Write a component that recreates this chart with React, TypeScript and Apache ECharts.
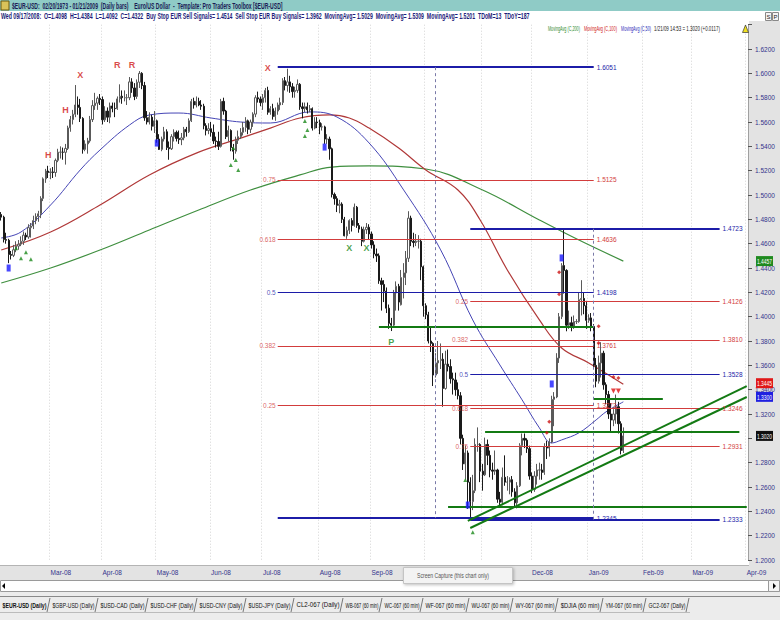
import React, { useEffect, useRef } from "react";
import * as echarts from "echarts";

const NARROW = "'Liberation Sans Narrow','Arial Narrow','Liberation Sans',sans-serif";

// ---------- axis ----------
const firstDate = "2008-02-04";
const lastDate = "2009-04-01";
const monthTicks: [string, string][] = [
  ["2008-03", "Mar-08"], ["2008-04", "Apr-08"], ["2008-05", "May-08"], ["2008-06", "Jun-08"],
  ["2008-07", "Jul-08"], ["2008-08", "Aug-08"], ["2008-09", "Sep-08"], ["2008-10", "Oct-08"],
  ["2008-11", "Nov-08"], ["2008-12", "Dec-08"], ["2009-01", "Jan-09"], ["2009-02", "Feb-09"],
  ["2009-03", "Mar-09"], ["2009-04", "Apr-09"],
];
const priceMin = 1.2;
const priceMax = 1.64;
const priceStep = 0.02;
const hiddenTicks = [1.64, 1.3];

// ---------- daily bars [open, high, low, close] ----------
const feb08 = [
  [1.4840, 1.4860, 1.4790, 1.4818], [1.4818, 1.4830, 1.4610, 1.4634], [1.4634, 1.4690, 1.4600, 1.4628],
  [1.4628, 1.4640, 1.4440, 1.4511], [1.4511, 1.4540, 1.4470, 1.4504], [1.4504, 1.4590, 1.4490, 1.4550],
  [1.4550, 1.4620, 1.4530, 1.4580], [1.4580, 1.4630, 1.4550, 1.4596], [1.4596, 1.4660, 1.4580, 1.4620],
  [1.4620, 1.4700, 1.4590, 1.4670], [1.4670, 1.4690, 1.4630, 1.4655], [1.4655, 1.4760, 1.4640, 1.4732],
  [1.4732, 1.4770, 1.4650, 1.4745], [1.4745, 1.4830, 1.4720, 1.4790], [1.4790, 1.4850, 1.4760, 1.4823],
  [1.4823, 1.4870, 1.4780, 1.4846], [1.4846, 1.4990, 1.4810, 1.4972], [1.4972, 1.5145, 1.4950, 1.5133],
  [1.5133, 1.5215, 1.5100, 1.5197], [1.5197, 1.5240, 1.5140, 1.5185],
];
const mar08 = [
  [1.5185, 1.5220, 1.5130, 1.5190], [1.5190, 1.5230, 1.5140, 1.5185], [1.5185, 1.5300, 1.5150, 1.5285],
  [1.5285, 1.5380, 1.5270, 1.5352], [1.5352, 1.5400, 1.5300, 1.5352], [1.5352, 1.5390, 1.5290, 1.5351],
  [1.5351, 1.5420, 1.5250, 1.5383], [1.5383, 1.5570, 1.5370, 1.5552], [1.5552, 1.5650, 1.5520, 1.5620],
  [1.5620, 1.5700, 1.5580, 1.5664], [1.5664, 1.5904, 1.5640, 1.5740], [1.5740, 1.5810, 1.5660, 1.5720],
  [1.5720, 1.5790, 1.5600, 1.5630], [1.5630, 1.5640, 1.5340, 1.5375], [1.5375, 1.5450, 1.5360, 1.5420],
  [1.5420, 1.5470, 1.5340, 1.5445], [1.5445, 1.5650, 1.5430, 1.5620], [1.5620, 1.5780, 1.5600, 1.5735],
  [1.5735, 1.5840, 1.5700, 1.5755], [1.5755, 1.5810, 1.5700, 1.5795], [1.5795, 1.5830, 1.5740, 1.5785],
];
const apr08 = [
  [1.5785, 1.5810, 1.5580, 1.5618], [1.5618, 1.5730, 1.5600, 1.5690], [1.5690, 1.5720, 1.5600, 1.5640],
  [1.5640, 1.5760, 1.5590, 1.5732], [1.5732, 1.5760, 1.5680, 1.5712], [1.5712, 1.5760, 1.5640, 1.5710],
  [1.5710, 1.5810, 1.5700, 1.5790], [1.5790, 1.5910, 1.5760, 1.5812], [1.5812, 1.5860, 1.5750, 1.5800],
  [1.5800, 1.5860, 1.5770, 1.5800], [1.5800, 1.5830, 1.5740, 1.5800], [1.5800, 1.5970, 1.5780, 1.5930],
  [1.5930, 1.5960, 1.5840, 1.5880], [1.5880, 1.5920, 1.5780, 1.5810], [1.5810, 1.5950, 1.5790, 1.5927],
  [1.5927, 1.6019, 1.5880, 1.6000], [1.6000, 1.6010, 1.5870, 1.5900], [1.5900, 1.5930, 1.5610, 1.5635],
  [1.5635, 1.5690, 1.5580, 1.5600], [1.5600, 1.5680, 1.5580, 1.5640], [1.5640, 1.5660, 1.5530, 1.5565],
  [1.5565, 1.5690, 1.5510, 1.5610],
];
const may08 = [
  [1.5610, 1.5620, 1.5430, 1.5460], [1.5460, 1.5500, 1.5370, 1.5375], [1.5375, 1.5480, 1.5360, 1.5460],
  [1.5460, 1.5560, 1.5440, 1.5520], [1.5520, 1.5540, 1.5370, 1.5390], [1.5390, 1.5440, 1.5290, 1.5380],
  [1.5380, 1.5500, 1.5370, 1.5480], [1.5480, 1.5540, 1.5440, 1.5515], [1.5515, 1.5530, 1.5440, 1.5465],
  [1.5465, 1.5530, 1.5420, 1.5455], [1.5455, 1.5510, 1.5410, 1.5470], [1.5470, 1.5560, 1.5450, 1.5540],
  [1.5540, 1.5560, 1.5480, 1.5520], [1.5520, 1.5630, 1.5510, 1.5610], [1.5610, 1.5790, 1.5600, 1.5770],
  [1.5770, 1.5800, 1.5710, 1.5740], [1.5740, 1.5810, 1.5720, 1.5770], [1.5770, 1.5800, 1.5730, 1.5740],
  [1.5740, 1.5780, 1.5700, 1.5730], [1.5730, 1.5750, 1.5540, 1.5570], [1.5570, 1.5590, 1.5490, 1.5530],
  [1.5530, 1.5590, 1.5500, 1.5545],
];
const jun08 = [
  [1.5545, 1.5600, 1.5480, 1.5515], [1.5515, 1.5580, 1.5420, 1.5445], [1.5445, 1.5480, 1.5390, 1.5440],
  [1.5440, 1.5520, 1.5370, 1.5400], [1.5400, 1.5790, 1.5390, 1.5770], [1.5770, 1.5800, 1.5660, 1.5690],
  [1.5690, 1.5700, 1.5460, 1.5480], [1.5480, 1.5570, 1.5440, 1.5530], [1.5530, 1.5540, 1.5360, 1.5390],
  [1.5390, 1.5420, 1.5290, 1.5360], [1.5360, 1.5480, 1.5340, 1.5450], [1.5450, 1.5530, 1.5420, 1.5480],
  [1.5480, 1.5550, 1.5460, 1.5515], [1.5515, 1.5600, 1.5490, 1.5555], [1.5555, 1.5640, 1.5520, 1.5610],
  [1.5610, 1.5620, 1.5500, 1.5540], [1.5540, 1.5620, 1.5510, 1.5600], [1.5600, 1.5680, 1.5560, 1.5665],
  [1.5665, 1.5820, 1.5640, 1.5800], [1.5800, 1.5850, 1.5760, 1.5790], [1.5790, 1.5810, 1.5730, 1.5760],
];
const jul08 = [
  [1.5760, 1.5830, 1.5700, 1.5800], [1.5800, 1.5880, 1.5760, 1.5860], [1.5860, 1.5890, 1.5660, 1.5680],
  [1.5680, 1.5730, 1.5660, 1.5710], [1.5710, 1.5750, 1.5620, 1.5645], [1.5645, 1.5720, 1.5610, 1.5690],
  [1.5690, 1.5760, 1.5660, 1.5740], [1.5740, 1.5800, 1.5700, 1.5760], [1.5760, 1.5960, 1.5740, 1.5940],
  [1.5940, 1.5970, 1.5860, 1.5900], [1.5900, 1.6038, 1.5850, 1.5930], [1.5930, 1.5980, 1.5840, 1.5890],
  [1.5890, 1.5920, 1.5800, 1.5850], [1.5850, 1.5890, 1.5800, 1.5860], [1.5860, 1.5950, 1.5840, 1.5910],
  [1.5910, 1.5920, 1.5700, 1.5725], [1.5725, 1.5760, 1.5630, 1.5710], [1.5710, 1.5760, 1.5680, 1.5725],
  [1.5725, 1.5760, 1.5670, 1.5700], [1.5700, 1.5740, 1.5680, 1.5710], [1.5710, 1.5720, 1.5530, 1.5550],
  [1.5550, 1.5640, 1.5540, 1.5600], [1.5600, 1.5640, 1.5550, 1.5595],
];
const aug08 = [
  [1.5595, 1.5620, 1.5500, 1.5560], [1.5560, 1.5590, 1.5530, 1.5560], [1.5560, 1.5570, 1.5420, 1.5460],
  [1.5460, 1.5500, 1.5420, 1.5460], [1.5460, 1.5480, 1.5290, 1.5380], [1.5380, 1.5390, 1.4980, 1.5005],
  [1.5005, 1.5020, 1.4920, 1.4970], [1.4970, 1.4990, 1.4860, 1.4915], [1.4915, 1.4960, 1.4850, 1.4925],
  [1.4925, 1.4940, 1.4770, 1.4800], [1.4800, 1.4820, 1.4660, 1.4665], [1.4665, 1.4740, 1.4640, 1.4710],
  [1.4710, 1.4800, 1.4680, 1.4790], [1.4790, 1.4810, 1.4700, 1.4750], [1.4750, 1.4930, 1.4740, 1.4900],
  [1.4900, 1.4910, 1.4730, 1.4750], [1.4750, 1.4770, 1.4690, 1.4720], [1.4720, 1.4740, 1.4580, 1.4620],
  [1.4620, 1.4740, 1.4610, 1.4715], [1.4715, 1.4770, 1.4680, 1.4735], [1.4735, 1.4760, 1.4630, 1.4680],
];
const sep08 = [
  [1.4680, 1.4700, 1.4560, 1.4590], [1.4590, 1.4620, 1.4480, 1.4515], [1.4515, 1.4560, 1.4450, 1.4500],
  [1.4500, 1.4520, 1.4270, 1.4295], [1.4295, 1.4320, 1.4050, 1.4265], [1.4265, 1.4300, 1.4120, 1.4210],
  [1.4210, 1.4240, 1.4030, 1.4070], [1.4070, 1.4100, 1.3900, 1.3945], [1.3945, 1.3990, 1.3882, 1.3930],
  [1.3930, 1.4220, 1.3920, 1.4195], [1.4195, 1.4290, 1.4050, 1.4250], [1.4250, 1.4270, 1.4050, 1.4120],
  [1.4098, 1.4384, 1.4092, 1.4322], [1.4322, 1.4440, 1.4150, 1.4360], [1.4360, 1.4540, 1.4260, 1.4480],
  [1.4480, 1.4867, 1.4450, 1.4810], [1.4810, 1.4830, 1.4580, 1.4620], [1.4620, 1.4690, 1.4570, 1.4610],
  [1.4610, 1.4680, 1.4580, 1.4620], [1.4620, 1.4670, 1.4560, 1.4620], [1.4620, 1.4640, 1.4300, 1.4410],
  [1.4410, 1.4420, 1.4000, 1.4090],
];
const oct08 = [
  [1.4090, 1.4110, 1.3980, 1.4015], [1.4015, 1.4040, 1.3780, 1.3800], [1.3800, 1.3910, 1.3710, 1.3780],
  [1.3780, 1.3790, 1.3430, 1.3520], [1.3520, 1.3700, 1.3500, 1.3620], [1.3620, 1.3800, 1.3530, 1.3640],
  [1.3640, 1.3780, 1.3570, 1.3650], [1.3650, 1.3700, 1.3260, 1.3410], [1.3410, 1.3720, 1.3400, 1.3610],
  [1.3610, 1.3730, 1.3550, 1.3590], [1.3590, 1.3650, 1.3450, 1.3490], [1.3490, 1.3540, 1.3360, 1.3480],
  [1.3480, 1.3540, 1.3350, 1.3400], [1.3400, 1.3460, 1.3320, 1.3350], [1.3350, 1.3380, 1.2950, 1.3000],
  [1.3000, 1.3030, 1.2740, 1.2790], [1.2790, 1.2940, 1.2660, 1.2880], [1.2880, 1.2900, 1.2420, 1.2640],
  [1.2640, 1.2680, 1.2330, 1.2480], [1.2480, 1.2700, 1.2410, 1.2570], [1.2570, 1.3000, 1.2550, 1.2950],
  [1.2950, 1.3090, 1.2890, 1.2950], [1.2950, 1.2960, 1.2640, 1.2730],
];
const nov08 = [
  [1.2730, 1.2790, 1.2570, 1.2700], [1.2700, 1.3006, 1.2690, 1.2950], [1.2950, 1.2990, 1.2780, 1.2860],
  [1.2860, 1.2900, 1.2680, 1.2740], [1.2740, 1.2800, 1.2660, 1.2730], [1.2730, 1.2900, 1.2700, 1.2740],
  [1.2740, 1.2750, 1.2470, 1.2500], [1.2500, 1.2560, 1.2440, 1.2475], [1.2475, 1.2760, 1.2450, 1.2680],
  [1.2680, 1.2860, 1.2610, 1.2640], [1.2640, 1.2690, 1.2570, 1.2640], [1.2640, 1.2680, 1.2540, 1.2660],
  [1.2660, 1.2690, 1.2520, 1.2560], [1.2560, 1.2590, 1.2430, 1.2470], [1.2470, 1.2640, 1.2424, 1.2610],
  [1.2610, 1.2960, 1.2600, 1.2940], [1.2940, 1.3040, 1.2860, 1.3000], [1.3000, 1.3040, 1.2920, 1.2985],
  [1.2985, 1.3000, 1.2880, 1.2915], [1.2915, 1.2940, 1.2660, 1.2690],
];
const dec08 = [
  [1.2690, 1.2720, 1.2550, 1.2580], [1.2580, 1.2730, 1.2560, 1.2690], [1.2690, 1.2790, 1.2620, 1.2740],
  [1.2740, 1.2800, 1.2660, 1.2740], [1.2740, 1.2790, 1.2660, 1.2720], [1.2720, 1.2960, 1.2700, 1.2930],
  [1.2930, 1.2980, 1.2830, 1.2920], [1.2920, 1.3000, 1.2850, 1.2970], [1.2970, 1.3350, 1.2960, 1.3320],
  [1.3320, 1.3380, 1.3100, 1.3340], [1.3340, 1.3700, 1.3330, 1.3660], [1.3660, 1.4030, 1.3620, 1.4000],
  [1.4000, 1.4440, 1.3980, 1.4420], [1.4420, 1.4720, 1.4190, 1.4380], [1.4380, 1.4390, 1.3880, 1.3930],
  [1.3930, 1.4050, 1.3900, 1.3950], [1.3950, 1.4000, 1.3880, 1.3920], [1.3920, 1.4010, 1.3900, 1.3960],
  [1.3960, 1.3980, 1.3940, 1.3960], [1.3960, 1.4200, 1.3950, 1.4140], [1.4140, 1.4300, 1.4010, 1.4150],
  [1.4150, 1.4200, 1.4020, 1.4090], [1.4090, 1.4130, 1.3900, 1.3970],
];
const jan09 = [
  [1.3970, 1.4020, 1.3950, 1.3990], [1.3990, 1.4030, 1.3880, 1.3920], [1.3920, 1.3940, 1.3580, 1.3600],
  [1.3600, 1.3660, 1.3420, 1.3470], [1.3470, 1.3680, 1.3450, 1.3620], [1.3620, 1.3790, 1.3500, 1.3700],
  [1.3700, 1.3720, 1.3400, 1.3440], [1.3440, 1.3460, 1.3280, 1.3360], [1.3360, 1.3390, 1.3160, 1.3200],
  [1.3200, 1.3290, 1.3060, 1.3150], [1.3150, 1.3240, 1.3100, 1.3200], [1.3200, 1.3360, 1.3120, 1.3260],
  [1.3260, 1.3300, 1.3040, 1.3120], [1.3120, 1.3140, 1.2868, 1.2900], [1.2900, 1.3090, 1.2880, 1.3020],
];

// ---------- moving averages [date, value] ----------
const ma50: [string, number][] = [
  ["2008-02-04", 1.4647], ["2008-02-14", 1.4696], ["2008-03-03", 1.4918], ["2008-03-19", 1.5206],
  ["2008-03-31", 1.5370], ["2008-04-16", 1.5576], ["2008-04-28", 1.5658], ["2008-05-14", 1.5674],
  ["2008-06-02", 1.5633], ["2008-06-18", 1.5600], ["2008-07-04", 1.5592], ["2008-07-28", 1.5683],
  ["2008-08-12", 1.5641], ["2008-08-29", 1.5428], ["2008-09-18", 1.5042], ["2008-10-09", 1.4549],
  ["2008-10-28", 1.3973], ["2008-11-12", 1.3603], ["2008-11-25", 1.3316], ["2008-12-04", 1.3086],
  ["2008-12-11", 1.2962], ["2008-12-17", 1.2987], ["2008-12-26", 1.3045], ["2009-01-06", 1.3152],
  ["2009-01-12", 1.3218], ["2009-01-21", 1.3300],
];
const ma100: [string, number][] = [
  ["2008-02-04", 1.4548], ["2008-03-03", 1.4696], ["2008-03-31", 1.4918], ["2008-04-28", 1.5165],
  ["2008-05-26", 1.5353], ["2008-06-18", 1.5468], ["2008-07-04", 1.5550], ["2008-07-22", 1.5633],
  ["2008-08-07", 1.5658], ["2008-08-19", 1.5633], ["2008-08-29", 1.5550], ["2008-09-16", 1.5386],
  ["2008-10-01", 1.5206], ["2008-10-20", 1.5041], ["2008-10-31", 1.4795], ["2008-11-17", 1.4384],
  ["2008-12-04", 1.3973], ["2008-12-17", 1.3743], ["2009-01-01", 1.3620], ["2009-01-21", 1.3445],
];
const ma200: [string, number][] = [
  ["2008-02-04", 1.4277], ["2008-03-03", 1.4400], ["2008-03-31", 1.4548], ["2008-04-28", 1.4713],
  ["2008-05-26", 1.4877], ["2008-06-24", 1.5041], ["2008-07-22", 1.5165], ["2008-08-08", 1.5230],
  ["2008-08-29", 1.5239], ["2008-10-01", 1.5214], ["2008-11-03", 1.5041], ["2008-12-04", 1.4795],
  ["2008-12-26", 1.4630], ["2009-01-21", 1.4457],
];

// ---------- drawn objects ----------
const fibA = { from: "2008-07-09", to: "2009-01-05" };
const fibALevels = [1.6051, 1.5125, 1.4636, 1.4198, 1.3761, 1.3273, 1.2345];
const fibARatios = ["", "0.75", "0.618", "0.5", "0.382", "0.25", ""];
const fibB = { from: "2008-10-27", to: "2009-03-17" };
const fibBLevels = [1.4723, 1.4126, 1.3810, 1.3528, 1.3246, 1.2931, 1.2333];
const fibBRatios = ["", "0.25", "0.382", "0.5", "0.618", "0.75", ""];
const supportLines: [string, string, number][] = [
  ["2008-09-04", "2009-01-05", 1.3915],
  ["2009-01-05", "2009-02-12", 1.3324],
  ["2008-11-04", "2009-03-27", 1.3052],
  ["2008-10-14", "2009-04-01", 1.2436],
];
const trendLines: [string, number, string, number][] = [
  ["2008-10-24", 1.2321, "2009-04-01", 1.3430],
  ["2008-10-27", 1.2263, "2009-04-01", 1.3340],
];
const timeLines: [string, number, number][] = [
  ["2008-10-07", 1.6051, 1.2345],
  ["2009-01-05", 1.4723, 1.2333],
];

// ---------- signal markers [date, price] ----------
const blueSignals: [string, number][] = [
  ["2008-02-07", 1.4400], ["2008-05-01", 1.5427], ["2008-08-05", 1.5394],
  ["2008-10-24", 1.2452], ["2008-12-11", 1.3447], ["2008-12-17", 1.4483],
];
const greenSignals: [string, number][] = [
  ["2008-02-12", 1.4563], ["2008-02-14", 1.4481], ["2008-02-18", 1.4530], ["2008-02-20", 1.4473],
  ["2008-06-12", 1.5247], ["2008-06-13", 1.5386], ["2008-06-16", 1.5288], ["2008-06-17", 1.5206],
  ["2008-07-24", 1.5608], ["2008-07-25", 1.5534], ["2008-07-24", 1.5485],
  ["2008-10-23", 1.2657], ["2008-10-28", 1.2229],
];
const greenLetters: [string, number, string][] = [
  ["2008-08-19", 1.4563, "X"], ["2008-08-28", 1.4563, "X"], ["2008-09-11", 1.3791, "P"],
];
const redLetters: [string, number, string][] = [
  ["2008-02-29", 1.5327, "H"], ["2008-03-11", 1.5697, "H"], ["2008-03-19", 1.5985, "X"],
  ["2008-04-09", 1.6067, "R"], ["2008-04-17", 1.6067, "R"], ["2008-07-03", 1.6043, "X"],
];
const redDots: [string, number][] = [
  ["2008-12-16", 1.4366], ["2008-12-16", 1.4185], ["2008-12-10", 1.3136], ["2008-12-09", 1.3045],
  ["2009-01-07", 1.3922], ["2009-01-07", 1.3783], ["2009-01-15", 1.3504], ["2009-01-19", 1.3496],
];
const redArrows: [string, number][] = [["2009-01-15", 1.3389], ["2009-01-19", 1.3389]];

// ---------- price flags on the axis ----------
const flagValues = [1.4457, 1.3445, 1.3300, 1.3020];
const flagColors = ["#1f8a1f", "#e01818", "#2020e0", "#101010"];
const flagShift = [0, -1, -5, 0];

// ---------- header / footer text ----------
const titleText = "$EUR-USD:  02/20/1973 - 01/21/2009  (Daily bars)    Euro/US Dollar  -  Template: Pro Traders Toolbox [$EUR-USD]";
const infoText = "Wed 09/17/2008:  O=1.4098  H=1.4384  L=1.4092  C=1.4322  Buy Stop EUR Sell Signals= 1.4514  Sell Stop EUR Buy Signals= 1.3962  MovingAvg= 1.5029  MovingAvg= 1.5309  MovingAvg= 1.5201  TDoM=13  TDoY=187";
const legendItems: [string, string][] = [
  ["MovingAvg (C,200)", "#2e8b2e"], ["MovingAvg (C,100)", "#d02020"], ["MovingAvg (C,50)", "#2a2ab8"],
  ["1/21/09 14:53 = 1.3020 (+0.0117)", "#222222"],
];
const tabNames = [
  "$EUR-USD (Daily)", "$GBP-USD (Daily)", "$USD-CAD (Daily)", "$USD-CHF (Daily)", "$USD-CNY (Daily)",
  "$USD-JPY (Daily)", "CL2-067 (Daily)", "WB-067 (60 min)", "WC-067 (60 min)", "WF-067 (60 min)",
  "WU-067 (60 min)", "WY-067 (60 min)", "$DJIA (60 min)", "YM-067 (60 min)", "GC2-067 (Daily)",
];

function weekdays(start: string, end: string): string[] {
  const out: string[] = [];
  const d = new Date(start + "T00:00:00Z");
  const e = new Date(end + "T00:00:00Z");
  while (d <= e) {
    const wd = d.getUTCDay();
    if (wd !== 0 && wd !== 6) out.push(d.toISOString().slice(0, 10));
    d.setUTCDate(d.getUTCDate() + 1);
  }
  return out;
}

export default function App() {
  const ref = useRef<HTMLDivElement>(null);

  useEffect(() => {
    document.body.style.margin = "0";
    const chart = echarts.init(ref.current!, undefined, { renderer: "svg", width: 780, height: 620 });
    const cats = weekdays(firstDate, lastDate);
    const isMonthStart = (i: number) => i > 0 && cats[i].slice(0, 7) !== cats[i - 1].slice(0, 7);
    const tickMap: Record<string, string> = {};
    monthTicks.forEach(([k, v]) => (tickMap[k] = v));

    const bars = [...feb08, ...mar08, ...apr08, ...may08, ...jun08, ...jul08, ...aug08, ...sep08, ...oct08, ...nov08, ...dec08, ...jan09]
      .map(([o, h, l, c]) => [o, c, l, h]);

    const RED = "#d23c3c";
    const BLUE = "#1c1ca8";
    const GREEN = "#137a13";
    const lbl = (text: string, color: string) => ({
      show: true, position: "end", formatter: text, color, fontSize: 6.5, fontFamily: NARROW, distance: 3,
    });
    const ml: any[] = [];
    const fibColor = (r: string) => (r === "" || r === "0.5" ? BLUE : RED);
    const addFib = (set: { from: string; to: string }, levels: number[], ratios: string[]) => {
      levels.forEach((v, k) => {
        const c = fibColor(ratios[k]);
        const wide = ratios[k] === "";
        ml.push([
          { coord: [set.from, v], lineStyle: { color: c, width: wide ? 2 : 1, type: "solid" }, label: lbl(v.toFixed(4), c) },
          { coord: [set.to, v] },
        ]);
      });
    };
    addFib(fibA, fibALevels, fibARatios);
    addFib(fibB, fibBLevels, fibBRatios);
    supportLines.forEach(([a, b, v]) =>
      ml.push([{ coord: [a, v], lineStyle: { color: GREEN, width: 2, type: "solid" }, label: { show: false } }, { coord: [b, v] }])
    );
    trendLines.forEach(([a, va, b, vb]) =>
      ml.push([{ coord: [a, va], lineStyle: { color: GREEN, width: 2, type: "solid" }, label: { show: false } }, { coord: [b, vb] }])
    );
    timeLines.forEach(([d, v1, v2]) =>
      ml.push([{ coord: [d, v1], lineStyle: { color: "#7a7aa8", width: 1, type: [3, 3] }, label: { show: false } }, { coord: [d, v2] }])
    );

    const ratioLabels: any[] = [];
    const addRatios = (set: { from: string }, levels: number[], ratios: string[]) =>
      levels.forEach((v, k) => {
        if (!ratios[k]) return;
        ratioLabels.push({ value: [set.from, v], label: { formatter: ratios[k], color: fibColor(ratios[k]) } });
      });
    addRatios(fibA, fibALevels, fibARatios);
    addRatios(fibB, fibBLevels, fibBRatios);

    const option: any = {
      animation: false,
      backgroundColor: "#ffffff",
      grid: { left: 0, right: 32, top: 24.7, bottom: 60, containLabel: false },
      xAxis: {
        type: "category",
        data: cats,
        boundaryGap: true,
        axisLine: { show: false },
        axisTick: { show: false },
        axisLabel: {
          interval: (i: number) => isMonthStart(i),
          formatter: (v: string) => tickMap[v.slice(0, 7)] || "",
          align: "left",
          color: "#34348c",
          fontSize: 6.5,
          fontFamily: NARROW,
          margin: 9,
        },
        splitLine: {
          show: true,
          interval: (i: number) => isMonthStart(i),
          lineStyle: { color: "#d4d4d4", type: [1, 2], width: 1 },
        },
      },
      yAxis: {
        type: "value",
        position: "right",
        min: priceMin,
        max: priceMax,
        interval: priceStep,
        axisLine: { show: true, lineStyle: { color: "#a0a0a0" } },
        axisTick: { show: true, length: 4, lineStyle: { color: "#555" } },
        splitLine: { show: false },
        axisLabel: {
          formatter: (v: number) => (hiddenTicks.some((h) => Math.abs(h - v) < 0.001) ? "" : v.toFixed(4)),
          color: "#34348c",
          fontSize: 6.5,
          fontFamily: NARROW,
          margin: 7,
        },
      },
      series: [
        {
          type: "line", name: "MA200", data: ma200, smooth: 0.4, showSymbol: false, z: 3,
          lineStyle: { color: "#3f8f3f", width: 1.2 },
        },
        {
          type: "line", name: "MA100", data: ma100, smooth: 0.4, showSymbol: false, z: 3,
          lineStyle: { color: "#b03838", width: 1.2 },
        },
        {
          type: "line", name: "MA50", data: ma50, smooth: 0.4, showSymbol: false, z: 3,
          lineStyle: { color: "#4545b5", width: 1 },
        },
        {
          type: "candlestick",
          name: "EUR-USD",
          data: bars,
          barWidth: "70%",
          z: 4,
          itemStyle: { color: "#ffffff", color0: "#1a1a1a", borderColor: "#5a5a5a", borderColor0: "#1a1a1a", borderWidth: 1 },
          markLine: {
            silent: true, symbol: ["none", "none"], animation: false, precision: 4,
            data: ml,
          },
        },
        {
          type: "scatter", name: "fibRatios", data: ratioLabels, symbolSize: 0.1, z: 6,
          itemStyle: { color: "rgba(0,0,0,0)" },
          label: { show: true, position: "left", distance: 2, fontSize: 6.5, fontFamily: NARROW },
        },
        {
          type: "scatter", name: "blueSig", data: blueSignals, symbol: "rect", symbolSize: [4, 7], z: 7,
          itemStyle: { color: "#1a1aff" },
        },
        {
          type: "scatter", name: "greenSig", data: greenSignals, symbol: "triangle", symbolSize: 4, z: 7,
          itemStyle: { color: "#1b8a1b" },
        },
        {
          type: "scatter", name: "greenLet", data: greenLetters.map(([d, v, t]) => ({ value: [d, v], label: { formatter: t } })),
          symbolSize: 0.1, z: 7, itemStyle: { color: "rgba(0,0,0,0)" },
          label: { show: true, position: "inside", color: "#1b8a1b", fontSize: 9, fontWeight: "bold", fontFamily: NARROW },
        },
        {
          type: "scatter", name: "redLet", data: redLetters.map(([d, v, t]) => ({ value: [d, v], label: { formatter: t } })),
          symbolSize: 0.1, z: 7, itemStyle: { color: "rgba(0,0,0,0)" },
          label: { show: true, position: "inside", color: "#d01818", fontSize: 9, fontWeight: "bold", fontFamily: NARROW },
        },
        {
          type: "scatter", name: "redDot", data: redDots, symbol: "diamond", symbolSize: 4, z: 7,
          itemStyle: { color: "#cc1111" },
        },
        {
          type: "scatter", name: "redArrow", data: redArrows, symbol: "triangle", symbolRotate: 180, symbolSize: 5, z: 7,
          itemStyle: { color: "#dd1111" },
        },
      ],
    };
    chart.setOption(option);

    const ctx = document.createElement("canvas").getContext("2d")!;
    const fit = (text: string, font: string, target: number) => {
      ctx.font = font;
      const w = ctx.measureText(text).width;
      return w > target ? target / w : 1;
    };
    const T = (x: number, y: number, text: string, font: string, fill: string, extra: any = {}, target = 0) => ({
      type: "text", x, y, z: 50, silent: true,
      scaleX: target ? fit(text, font, target) : 1,
      style: { text, font, fill, align: "left", verticalAlign: "middle", ...extra },
    });

    const g: any[] = [];
    // panels
    g.push({ type: "rect", z: -1, shape: { x: 0, y: 0, width: 780, height: 11 }, style: { fill: "#8fcbc6" } });
    g.push({ type: "rect", z: -1, shape: { x: 749, y: 21, width: 31, height: 560 }, style: { fill: "#e3e3e3" } });
    g.push({ type: "rect", z: -1, shape: { x: 0, y: 565, width: 749, height: 15 }, style: { fill: "#e3e3e3" } });
    g.push({ type: "line", z: 1, shape: { x1: 0, y1: 565.5, x2: 749, y2: 565.5 }, style: { stroke: "#b4b4b4", lineWidth: 1 } });
    // scrollbar
    g.push({ type: "rect", z: 1, shape: { x: 0.5, y: 580.5, width: 779, height: 11 }, style: { fill: "#ffffff", stroke: "#9a9a9a" } });
    g.push({ type: "polygon", z: 2, shape: { points: [[2, 586], [5, 583], [5, 589]] }, style: { fill: "#000" } });
    g.push({ type: "rect", z: 2, shape: { x: 768.5, y: 580.5, width: 11, height: 11 }, style: { fill: "#f4f4f4", stroke: "#9a9a9a" } });
    g.push({ type: "polygon", z: 3, shape: { points: [[776, 586], [773, 583], [773, 589]] }, style: { fill: "#000" } });
    // tab strip
    g.push({ type: "rect", z: -1, shape: { x: 0, y: 592, width: 780, height: 28 }, style: { fill: "#ececec" } });
    g.push({ type: "line", z: 1, shape: { x1: 0, y1: 596.5, x2: 780, y2: 596.5 }, style: { stroke: "#8a8a8a", lineWidth: 1 } });
    const seps = [49, 97, 147, 196, 245, 293, 342, 381, 422, 468, 512, 557, 602, 645, 688];
    let prev = 0;
    tabNames.forEach((name, k) => {
      const end = seps[k];
      const font = `${k === 0 ? "bold " : ""}8px ${NARROW}`;
      g.push(T((prev + end) / 2, 605, name, font, "#111", { align: "center" }, end - prev - 5));
      g.push({ type: "line", z: 2, shape: { x1: end - 2, y1: 612, x2: end + 1, y2: 598 }, style: { stroke: "#777", lineWidth: 1 } });
      prev = end + 1;
    });
    g.push({ type: "line", z: 2, shape: { x1: 0, y1: 612.5, x2: 690, y2: 612.5 }, style: { stroke: "#bbbbbb", lineWidth: 1 } });
    // header
    g.push({ type: "rect", z: 2, shape: { x: 1, y: 1, width: 8, height: 9 }, style: { fill: "#d9c35a", stroke: "#6b5a10" } });
    g.push(T(12, 5.5, titleText, `bold 9px ${NARROW}`, "#1b1b55", {}, 271));
    g.push(T(1, 16, infoText, `bold 9px ${NARROW}`, "#1d1d7a", {}, 529));
    g.push({ type: "rect", z: 2, shape: { x: 765.5, y: 12.5, width: 6, height: 8 }, style: { fill: "#f4f4f4", stroke: "#888" } });
    g.push({ type: "rect", z: 2, shape: { x: 772.5, y: 12.5, width: 6, height: 8 }, style: { fill: "#f4f4f4", stroke: "#888" } });
    g.push(T(768.5, 16.5, "S", `6px ${NARROW}`, "#222", { align: "center" }));
    g.push(T(775.5, 16.5, "P", `6px ${NARROW}`, "#222", { align: "center" }));
    // legend
    const legX = [548, 584, 621, 654];
    const legW = [32, 33, 30, 66];
    legendItems.forEach(([t, c], k) => g.push(T(legX[k], 28, t, `8px ${NARROW}`, c, {}, legW[k])));
    g.push({ type: "polygon", z: 50, shape: { points: [[745.5, 25], [742.5, 32.5], [748.5, 32.5]] }, style: { fill: "#f0e020", stroke: "#333", lineWidth: 0.7 } });
    // popup
    g.push({
      type: "rect", z: 60, shape: { x: 403.5, y: 567.5, width: 109, height: 16 },
      style: { fill: "#f3f3f3", stroke: "#c4c4c4", shadowBlur: 3, shadowColor: "rgba(0,0,0,0.25)", shadowOffsetX: 1, shadowOffsetY: 1 },
    });
    g.push({ ...T(417, 575.5, "Screen Capture (this chart only)", `8px ${NARROW}`, "#555", {}, 72), z: 61 });
    // flags
    flagValues.forEach((v, k) => {
      const y = (chart.convertToPixel({ yAxisIndex: 0 }, v) as number) + flagShift[k];
      g.push({ type: "rect", z: 70, shape: { x: 756, y: y - 5, width: 17, height: 10 }, style: { fill: flagColors[k] } });
      g.push({ ...T(764.5, y, v.toFixed(4), `7.5px ${NARROW}`, "#ffffff", { align: "center" }, 15), z: 71 });
    });
    chart.setOption({ graphic: { elements: g } });

    return () => chart.dispose();
  }, []);

  return <div ref={ref} style={{ position: "absolute", left: 0, top: 0, width: 780, height: 620 }} />;
}
